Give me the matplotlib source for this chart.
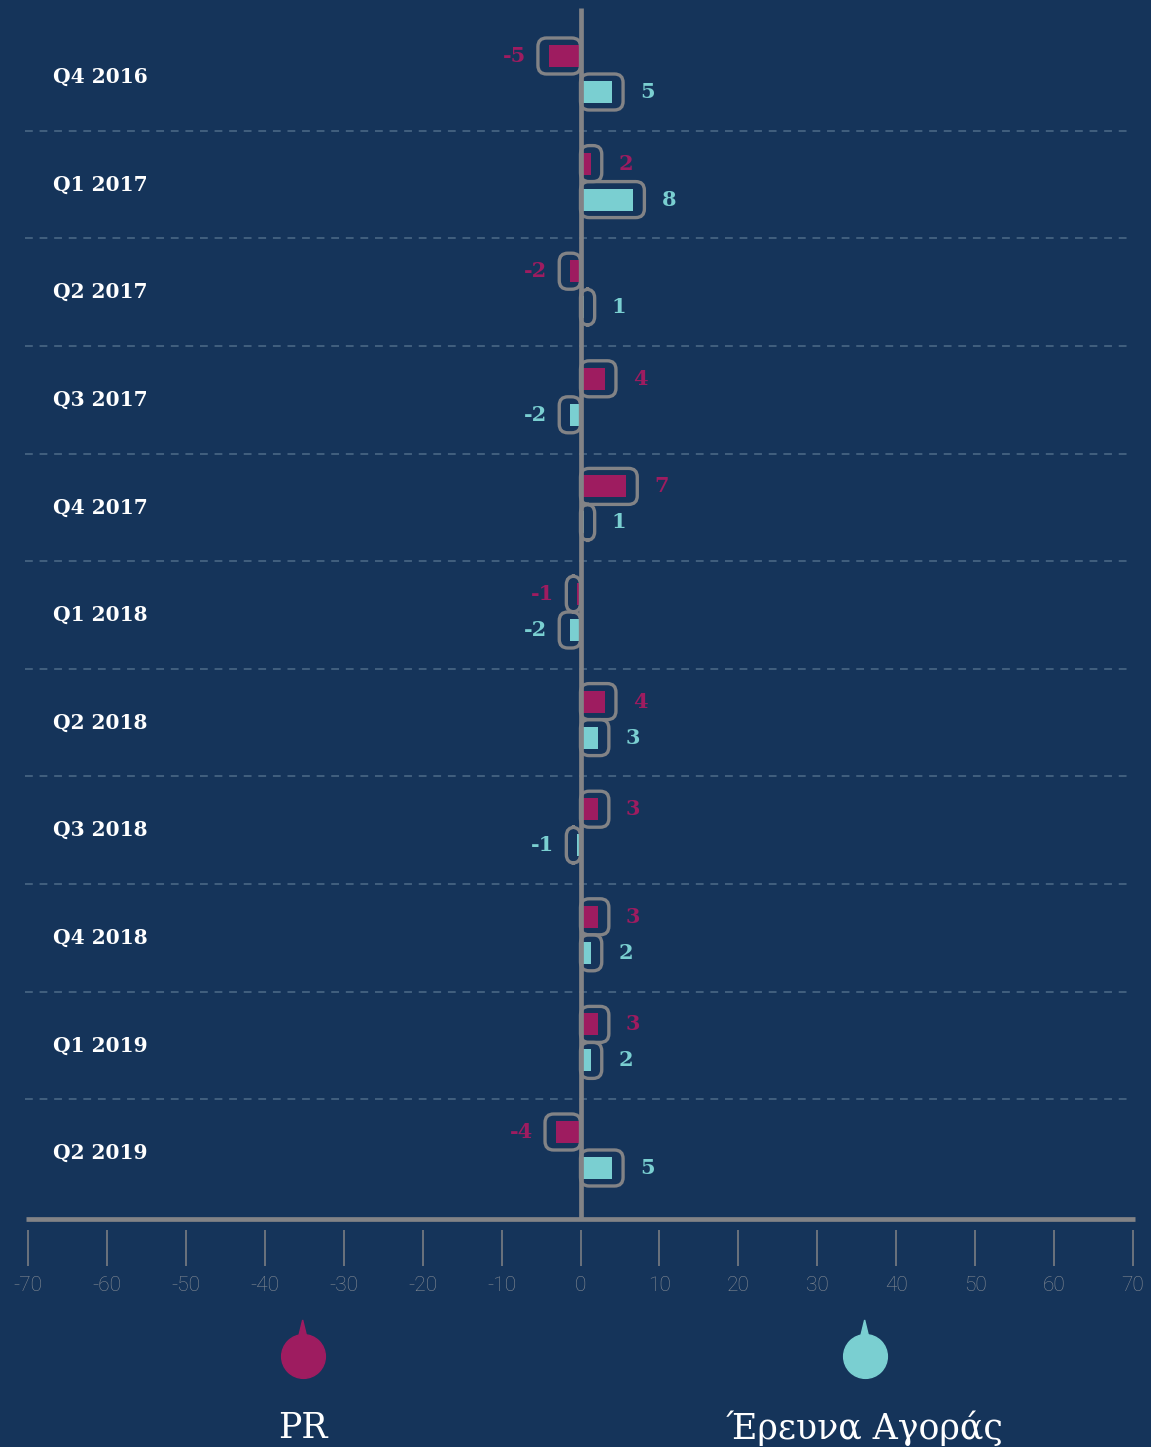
import matplotlib
matplotlib.use('Agg')
import matplotlib.pyplot as plt
from matplotlib.patches import FancyBboxPatch, Polygon
import matplotlib.transforms as mtransforms

quarters = ['Q4 2016', 'Q1 2017', 'Q2 2017', 'Q3 2017', 'Q4 2017', 'Q1 2018',
            'Q2 2018', 'Q3 2018', 'Q4 2018', 'Q1 2019', 'Q2 2019']
pr_values = [-5, 2, -2, 4, 7, -1, 4, 3, 3, 3, -4]
market_values = [5, 8, 1, -2, 1, -2, 3, -1, 2, 2, 5]
series_names = ['PR', 'Έρευνα Αγοράς']
x_ticks = list(range(-70, 71, 10))

BG = '#15345a'
PR_COLOR = '#9e1c60'
MR_COLOR = '#7acfd1'
GRAY = '#828386'
DASH = '#42607f'

W, H = 1151, 1447
fig = plt.figure(figsize=(W / 100, H / 100), dpi=100, facecolor=BG)
# axes spans from the top of the zero line down to where the ticks start
ax = fig.add_axes([28 / W, 1 - 1230 / H, 1105 / W, (1230 - 8) / H])
ax.set_facecolor(BG)

row_px = 107.6
ax.set_xlim(-70, 70)
ax.set_ylim((1230 - 77) / row_px, (8 - 77) / row_px)
x_unit = 1105 / 140  # pixels per x unit
bottom_line = (1219 - 77) / row_px

for s in ax.spines.values():
    s.set_visible(False)

ax.set_xticks(x_ticks)
ax.set_xticklabels([str(t) for t in x_ticks], fontfamily='Roboto', fontweight='light',
                   fontsize=15, color='#868c94')
ax.tick_params(axis='x', length=26, width=1.1, color=GRAY, pad=7, direction='out')
ax.set_yticks([])

# dashed separators
for i in range(len(quarters) - 1):
    ax.plot([-70.4, 69.3], [i + 0.5, i + 0.5], color=DASH, lw=1.4,
            dashes=(4, 3.5), zorder=1, clip_on=False)

bar_h = 22 / row_px
box_h = 36 / row_px
aspect = (1 / row_px) / (1 / x_unit)


def draw_bar(y, v, color):
    sign = 1 if v >= 0 else -1
    inner = max(abs(v) * 0.9 - 0.5, 0.3) * sign
    ax.barh(y, inner, height=bar_h, left=0, color=color, zorder=3)
    end = inner + sign * 11 / x_unit
    x0 = min(0, end)
    box = FancyBboxPatch((x0, y - box_h / 2), abs(end), box_h,
                         boxstyle='round,pad=0,rounding_size=1.1',
                         mutation_aspect=aspect, fill=False,
                         edgecolor=GRAY, lw=2.4, zorder=4)
    ax.add_patch(box)
    if v >= 0:
        ax.annotate(str(v), (end, y), xytext=(17, 0), textcoords='offset pixels',
                    ha='left', va='center', color=color, fontsize=15,
                    fontweight='bold', fontfamily='DejaVu Serif')
    else:
        ax.annotate(str(v), (end, y), xytext=(-12, 0), textcoords='offset pixels',
                    ha='right', va='center', color=color, fontsize=15,
                    fontweight='bold', fontfamily='DejaVu Serif')


label_tf = mtransforms.blended_transform_factory(ax.transAxes, ax.transData)
for i, q in enumerate(quarters):
    draw_bar(i - 21 / row_px, pr_values[i], PR_COLOR)
    draw_bar(i + 15 / row_px, market_values[i], MR_COLOR)
    ax.text(25 / 1105, i, q, transform=label_tf, ha='left', va='center',
            color='white', fontsize=14.5, fontweight='bold', fontfamily='DejaVu Serif')

# zero line and bottom axis line
ax.plot([0, 0], [ax.get_ylim()[1], bottom_line], color=GRAY, lw=3.4, zorder=5,
        solid_capstyle='butt', clip_on=False)
ax.plot([-70.3, 70.3], [bottom_line, bottom_line], color=GRAY, lw=3.4, zorder=5,
        solid_capstyle='butt', clip_on=False)

# legend below the axis
blend = mtransforms.blended_transform_factory(ax.transData, fig.transFigure)
for name, color, lx in zip(series_names, [PR_COLOR, MR_COLOR], [-35.2, 36]):
    cy = 1 - 1356 / H
    ax.plot([lx], [cy], marker='o', ms=31.5, color=color, mec=color,
            transform=blend, clip_on=False, zorder=6)
    spike = Polygon([(lx - 0.55, 1 - 1338 / H), (lx, 1 - 1320 / H), (lx + 0.55, 1 - 1338 / H)],
                    closed=True, color=color, transform=blend, clip_on=False, zorder=6)
    ax.add_patch(spike)
    ax.text(lx, 1 - 1428 / H, name, transform=blend, ha='center', va='center',
            color='white', fontsize=25, fontfamily='DejaVu Serif', clip_on=False)

fig.savefig('out.png', dpi=100, facecolor=BG)
